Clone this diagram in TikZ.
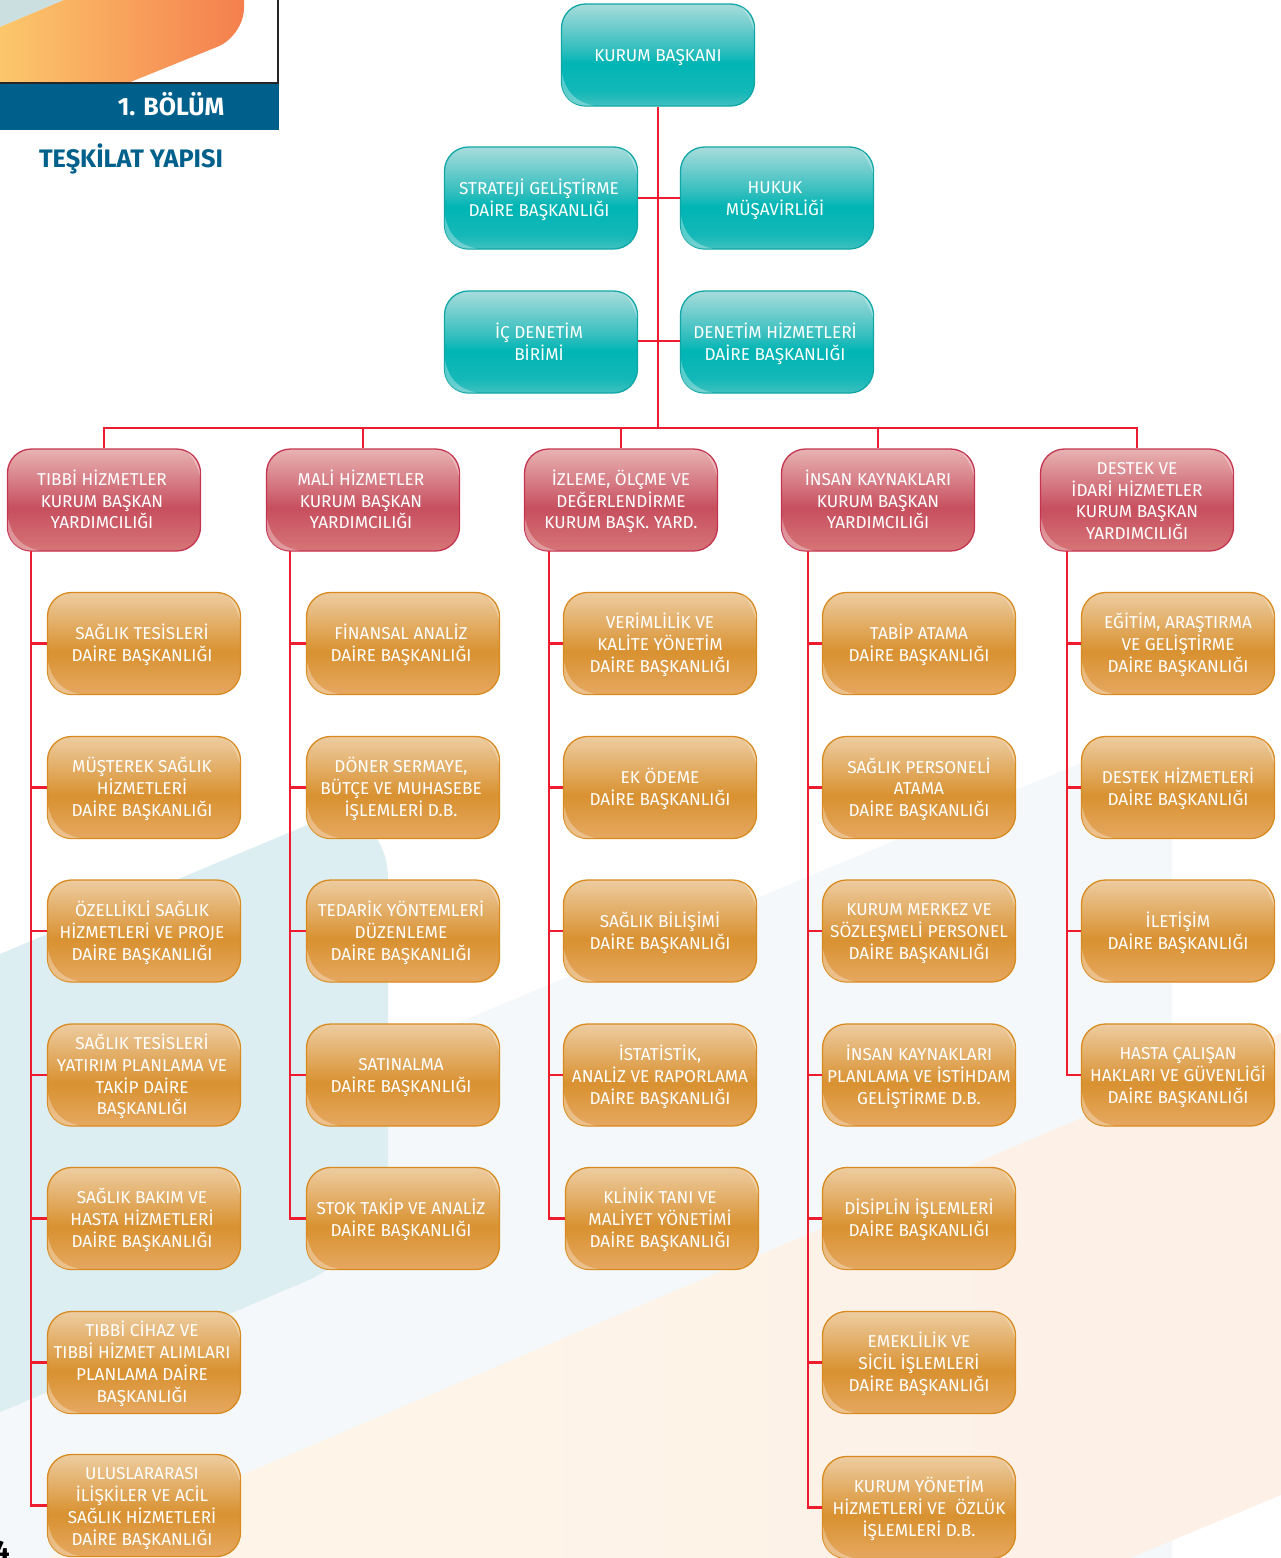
\documentclass[tikz,border=0pt]{standalone}
\usepackage{fontspec}
\setmainfont{Fira Sans}
\usetikzlibrary{calc}
\definecolor{tealb}{HTML}{0FA7A6}
\definecolor{redb}{HTML}{C4334F}
\definecolor{orb}{HTML}{D88A1F}
\definecolor{linered}{HTML}{ED1C2E}
\definecolor{banner}{HTML}{00608C}
\definecolor{bgblue}{HTML}{DDEEF2}
\definecolor{bggrey}{HTML}{F4F8FA}
\definecolor{bgcreamL}{HTML}{FEF6E8}
\definecolor{bgcreamR}{HTML}{FDF0E7}
\definecolor{tla}{HTML}{FBC76B}
\definecolor{tlb}{HTML}{F57F4E}
\definecolor{tlc}{HTML}{CCDFE0}
\pgfdeclareverticalshading{tealgrad}{100bp}{
 rgb(0bp)=(0.25,0.75,0.75); rgb(25bp)=(0.25,0.75,0.75); rgb(32bp)=(0.08,0.72,0.72); rgb(46bp)=(0,0.71,0.71); rgb(52bp)=(0.18,0.74,0.74); rgb(75bp)=(0.66,0.86,0.86); rgb(100bp)=(0.66,0.86,0.86)}
\pgfdeclareverticalshading{redgrad}{100bp}{
 rgb(0bp)=(0.84,0.46,0.47); rgb(25bp)=(0.84,0.46,0.47); rgb(46bp)=(0.78,0.31,0.37); rgb(75bp)=(0.91,0.70,0.70); rgb(100bp)=(0.91,0.70,0.70)}
\pgfdeclareverticalshading{orgrad}{100bp}{
 rgb(0bp)=(0.90,0.66,0.38); rgb(25bp)=(0.90,0.66,0.38); rgb(46bp)=(0.85,0.57,0.19); rgb(75bp)=(0.93,0.80,0.63); rgb(100bp)=(0.93,0.80,0.63)}
\newcommand{\tC}[1]{\raisebox{-2.7pt}[\height][\depth]{\begin{tabular}{@{}c@{}}#1\end{tabular}}}
\newcommand{\tL}[1]{\tC{#1}\hspace*{4pt}}
\tikzset{x=1pt,y=-1pt,
 boxbase/.style={rounded corners=24pt,minimum width=193pt,minimum height=102pt,inner sep=0pt,text=white,font=\fontsize{17.2}{21.4}\selectfont,line width=1.3pt,shade,shading angle=0},
 tealbox/.style={boxbase,draw=tealb,shading=tealgrad},
 redbox/.style={boxbase,draw=redb,shading=redgrad},
 orbox/.style={boxbase,draw=orb,shading=orgrad},
 glossy/.style={fill=white,fill opacity=.3,draw=none},
 conn/.style={draw=linered,line width=2.8pt}}
\begin{document}
\begin{tikzpicture}
\useasboundingbox (0,0) rectangle (1281,1558);
\fill[white] (0,0) rectangle (1281,1558);
% background shapes
\fill[bggrey,rounded corners=60pt] (-200,1297) -- (1172,725) -- (1172,1800) -- (-200,1800) -- cycle;
\fill[bgblue,rounded corners=88pt] (-200,1038) -- (388,791) -- (388,1246) -- (-200,1498) -- cycle;
\shade[left color=bgcreamL,right color=bgcreamR] (47,1558) -- (1281,1033) -- (1281,1495) -- (1130,1558) -- cycle;
\node[anchor=base east,inner sep=0pt,font=\fontsize{28}{28}\selectfont\bfseries,text=black] (sayfa) at (10,1560) {4};
% top left graphic
\fill[tlc] (0,0) -- (64,0) -- (0,27) -- cycle;
\shade[left color=tla,right color=tlb] (0,83) -- (0,27) -- (64,0) -- (244,0) [rounded corners=28pt] -- (244,36) [sharp corners] -- (128,83) -- cycle;
\draw[line width=1.2pt,draw=black!85] (278,0) -- (278,83) -- (0,83);
\fill[banner] (0,84) rectangle (278.5,129.5);
\node[text=white,font=\fontsize{25}{25}\selectfont\bfseries] (bolum) at (171,104.5) {1. BÖLÜM};
\node[text=banner,font=\fontsize{25.3}{25}\selectfont\bfseries] (baslik) at (131,159) {TEŞKİLAT YAPISI};
% nodes
\node[tealbox] (kb) at (658,55) {\tC{KURUM BAŞKANI}};
\node[tealbox] (sg) at (541,198) {\tL{STRATEJİ GELİŞTİRME\\DAİRE BAŞKANLIĞI}};
\node[tealbox] (hm) at (777,198) {\tL{HUKUK\\MÜŞAVİRLİĞİ}};
\node[tealbox] (id) at (541,342) {\tL{İÇ DENETİM\\BİRİMİ}};
\node[tealbox] (dh) at (777,342) {\tL{DENETİM HİZMETLERİ\\DAİRE BAŞKANLIĞI}};
\coordinate (jtop) at (658,428);
\node[redbox] (r1) at (104,500) {\tL{TIBBİ HİZMETLER\\KURUM BAŞKAN\\YARDIMCILIĞI}};
\node[redbox] (r2) at (363,500) {\tL{MALİ HİZMETLER\\KURUM BAŞKAN\\YARDIMCILIĞI}};
\node[redbox] (r3) at (621,500) {\tC{İZLEME, ÖLÇME VE\\DEĞERLENDİRME\\KURUM BAŞK. YARD.}};
\node[redbox] (r4) at (878,500) {\tC{İNSAN KAYNAKLARI\\KURUM BAŞKAN\\YARDIMCILIĞI}};
\node[redbox] (r5) at (1137,500) {\tC{DESTEK VE\\İDARİ HİZMETLER\\KURUM BAŞKAN\\YARDIMCILIĞI}};
% col 1
\node[orbox] (a1) at (144,643.5) {\tL{SAĞLIK TESİSLERİ\\DAİRE BAŞKANLIĞI}};
\node[orbox] (a2) at (144,787.5) {\tL{MÜŞTEREK SAĞLIK\\HİZMETLERİ\\DAİRE BAŞKANLIĞI}};
\node[orbox] (a3) at (144,931) {\tL{ÖZELLİKLİ SAĞLIK\\HİZMETLERİ VE PROJE\\DAİRE BAŞKANLIĞI}};
\node[orbox] (a4) at (144,1075) {\tL{SAĞLIK TESİSLERİ\\YATIRIM PLANLAMA VE\\TAKİP DAİRE\\BAŞKANLIĞI}};
\node[orbox] (a5) at (144,1218.5) {\tL{SAĞLIK BAKIM VE\\HASTA HİZMETLERİ\\DAİRE BAŞKANLIĞI}};
\node[orbox] (a6) at (144,1362.5) {\tL{TIBBİ CİHAZ VE\\TIBBİ HİZMET ALIMLARI\\PLANLAMA DAİRE\\BAŞKANLIĞI}};
\node[orbox] (a7) at (144,1505.5) {\tL{ULUSLARARASI\\İLİŞKİLER VE ACİL\\SAĞLIK HİZMETLERİ\\DAİRE BAŞKANLIĞI}};
% col 2
\node[orbox] (b1) at (403,643.5) {\tL{FİNANSAL ANALİZ\\DAİRE BAŞKANLIĞI}};
\node[orbox] (b2) at (403,787.5) {\tL{DÖNER SERMAYE,\\BÜTÇE VE MUHASEBE\\İŞLEMLERİ D.B.}};
\node[orbox] (b3) at (403,931) {\tL{TEDARİK YÖNTEMLERİ\\DÜZENLEME\\DAİRE BAŞKANLIĞI}};
\node[orbox] (b4) at (403,1075) {\tL{SATINALMA\\DAİRE BAŞKANLIĞI}};
\node[orbox] (b5) at (403,1218.5) {\tL{STOK TAKİP VE ANALİZ\\DAİRE BAŞKANLIĞI}};
% col 3
\node[orbox] (c1) at (660,643.5) {\tC{VERİMLİLİK VE\\KALİTE YÖNETİM\\DAİRE BAŞKANLIĞI}};
\node[orbox] (c2) at (660,787.5) {\tC{EK ÖDEME\\DAİRE BAŞKANLIĞI}};
\node[orbox] (c3) at (660,931) {\tC{SAĞLIK BİLİŞİMİ\\DAİRE BAŞKANLIĞI}};
\node[orbox] (c4) at (660,1075) {\tC{İSTATİSTİK,\\ANALİZ VE RAPORLAMA\\DAİRE BAŞKANLIĞI}};
\node[orbox] (c5) at (662,1218.5) {\tL{KLİNİK TANI VE\\MALİYET YÖNETİMİ\\DAİRE BAŞKANLIĞI}};
% col 4
\node[orbox] (d1) at (919,643.5) {\tC{TABİP ATAMA\\DAİRE BAŞKANLIĞI}};
\node[orbox] (d2) at (919,787.5) {\tC{SAĞLIK PERSONELİ\\ATAMA\\DAİRE BAŞKANLIĞI}};
\node[orbox] (d3) at (919,931) {\tC{KURUM MERKEZ VE\\SÖZLEŞMELİ PERSONEL\\DAİRE BAŞKANLIĞI}};
\node[orbox] (d4) at (919,1075) {\tC{İNSAN KAYNAKLARI\\PLANLAMA VE İSTİHDAM\\GELİŞTİRME D.B.}};
\node[orbox] (d5) at (919,1218.5) {\tC{DİSİPLİN İŞLEMLERİ\\DAİRE BAŞKANLIĞI}};
\node[orbox] (d6) at (919,1362.5) {\tC{EMEKLİLİK VE\\SİCİL İŞLEMLERİ\\DAİRE BAŞKANLIĞI}};
\node[orbox] (d7) at (919,1507.5) {\tC{KURUM YÖNETİM\\HİZMETLERİ VE\ \ ÖZLÜK\\İŞLEMLERİ D.B.}};
% col 5
\node[orbox] (e1) at (1178,643.5) {\tC{EĞİTİM, ARAŞTIRMA\\VE GELİŞTİRME\\DAİRE BAŞKANLIĞI}};
\node[orbox] (e2) at (1178,787.5) {\tC{DESTEK HİZMETLERİ\\DAİRE BAŞKANLIĞI}};
\node[orbox] (e3) at (1178,931) {\tC{İLETİŞİM\\DAİRE BAŞKANLIĞI}};
\node[orbox] (e4) at (1178,1075) {\tC{HASTA ÇALIŞAN\\HAKLARI VE GÜVENLİĞİ\\DAİRE BAŞKANLIĞI}};
% corner highlights of every box
\foreach \k in {kb,sg,hm,id,dh,r1,r2,r3,r4,r5,a1,a2,a3,a4,a5,a6,a7,b1,b2,b3,b4,b5,c1,c2,c3,c4,c5,d1,d2,d3,d4,d5,d6,d7,e1,e2,e3,e4}{
  \fill[glossy] ([shift={(1,-34)}]\k.south west) -- ([shift={(1,-24)}]\k.south west)
    .. controls ([shift={(1,-11)}]\k.south west) and ([shift={(11,-1)}]\k.south west) .. ([shift={(24,-1)}]\k.south west)
    -- ([shift={(33,-1)}]\k.south west)
    .. controls ([shift={(14,-5)}]\k.south west) and ([shift={(5,-15)}]\k.south west) .. cycle;
  \fill[glossy] ([shift={(-15,3)}]\k.north east)
    .. controls ([shift={(-9,5.5)}]\k.north east) and ([shift={(-2.5,14)}]\k.north east) .. ([shift={(-1,24)}]\k.north east)
    -- ([shift={(-1,28)}]\k.north east)
    .. controls ([shift={(-5,14)}]\k.north east) and ([shift={(-10,7)}]\k.north east) .. cycle;
}
% connectors
\draw[conn] (kb.south) -- (jtop);
\draw[conn] (sg.east) -- (hm.west);
\draw[conn] ([yshift=1pt]id.east) -- ([yshift=1pt]dh.west);
\foreach \r in {r1,r2,r3,r4,r5}{\draw[conn] (jtop) -| (\r.north);}
\foreach \r/\x/\last/\list in {r1/31/a7/{a1,a2,a3,a4,a5,a6,a7},r2/290/b5/{b1,b2,b3,b4,b5},r3/549/c5/{c1,c2,c3,c4,c5},r4/808/d7/{d1,d2,d3,d4,d5,d6,d7},r5/1067/e4/{e1,e2,e3,e4}}{
  \coordinate (top\r) at (\x,551);
  \draw[conn] (top\r) |- (\last.west);
  \foreach \k in \list {\draw[conn] (\x,0 |- \k.west) -- (\k.west);}
}
\end{tikzpicture}
\end{document}
